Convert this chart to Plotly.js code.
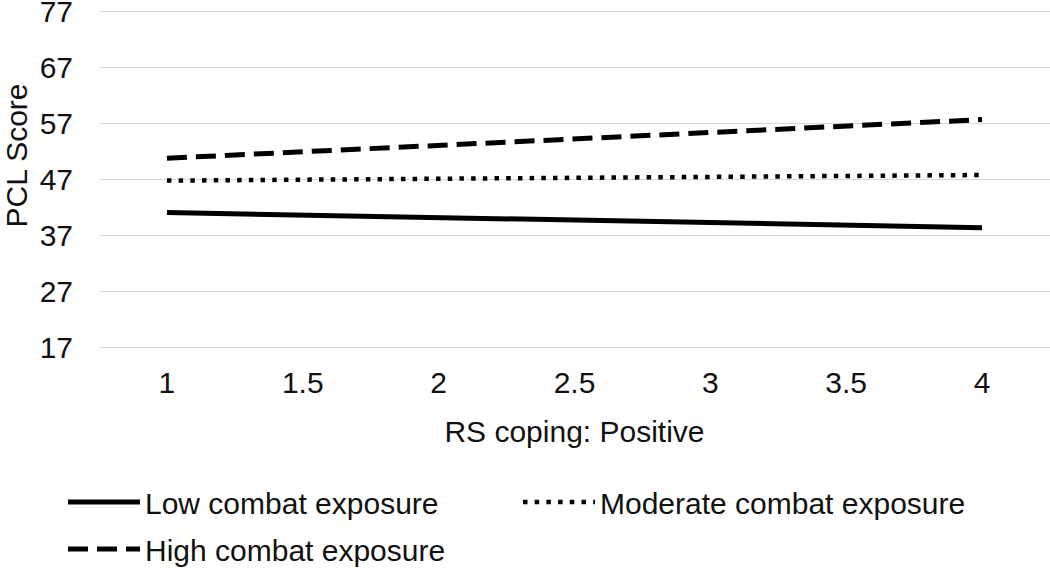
<!DOCTYPE html>
<html>
<head>
<meta charset="utf-8">
<script src="https://cdn.plot.ly/plotly-3.0.1.min.js"></script>
<style>html,body{margin:0;padding:0;background:#fff;}#chart{width:1050px;height:568px;}</style>
</head>
<body>
<div id="chart"></div>
<script>
const xValues = [1, 4];
const seriesNames = ["Low combat exposure", "Moderate combat exposure", "High combat exposure"];
const lowValues = [41.1, 38.4];
const moderateValues = [46.8, 47.8];
const highValues = [50.8, 57.7];
const xTicks = [1, 1.5, 2, 2.5, 3, 3.5, 4];
const yTicks = [17, 27, 37, 47, 57, 67, 77];

const FONT = "Liberation Sans, Arial, sans-serif";
const TXT = "#111111";
const FS = 30;
const PW = 951;

const traces = [
  {x: xValues, y: lowValues, name: seriesNames[0], mode: "lines", legend: "legend",
   line: {color: "#000", width: 5}},
  {x: xValues, y: moderateValues, name: seriesNames[1], mode: "lines", legend: "legend2",
   line: {color: "#000", width: 4.5, dash: "4.5px,7.2px"}},
  {x: xValues, y: highValues, name: seriesNames[2], mode: "lines", legend: "legend3",
   line: {color: "#000", width: 5, dash: "20px,9px"}}
];

function legendAt(xpx, ypx) {
  return {
    x: (xpx - 99) / PW, xanchor: "left",
    yref: "container", y: 1 - ypx / 568, yanchor: "middle",
    orientation: "h", itemwidth: 72, bgcolor: "rgba(0,0,0,0)",
    font: {family: FONT, size: FS, color: TXT}
  };
}

const layout = {
  width: 1050, height: 568,
  margin: {l: 99, r: 0, t: 6, b: 215},
  paper_bgcolor: "#fff", plot_bgcolor: "#fff",
  font: {family: FONT, size: FS, color: TXT},
  showlegend: true,
  xaxis: {
    range: [0.75, 4.25], tickvals: xTicks, ticktext: xTicks.map(String),
    showgrid: false, zeroline: false, showline: false, ticks: "",
    ticklabelstandoff: 9,
    tickfont: {family: FONT, size: FS, color: TXT},
    title: {text: "RS coping: Positive", font: {family: FONT, size: FS, color: TXT}, standoff: 22}
  },
  yaxis: {
    range: [16, 78], tickvals: yTicks, ticktext: yTicks.map(String),
    showgrid: true, gridcolor: "#d9d9d9", gridwidth: 1.6,
    zeroline: false, showline: false, ticks: "",
    ticklabelstandoff: 25, ticklabeloverflow: "allow",
    tickfont: {family: FONT, size: FS, color: TXT}
  },
  annotations: [{
    text: "PCL Score", textangle: -90, showarrow: false,
    xref: "paper", yref: "y", x: (16 - 99) / PW, xanchor: "center",
    y: 47 + (181 - 157) / 5.58, yanchor: "middle",
    font: {family: FONT, size: FS, color: TXT}
  }],
  legend: legendAt(63, 502),
  legend2: legendAt(518, 502),
  legend3: legendAt(63, 549)
};

Plotly.newPlot("chart", traces, layout, {displayModeBar: false, staticPlot: true});
</script>
</body>
</html>
